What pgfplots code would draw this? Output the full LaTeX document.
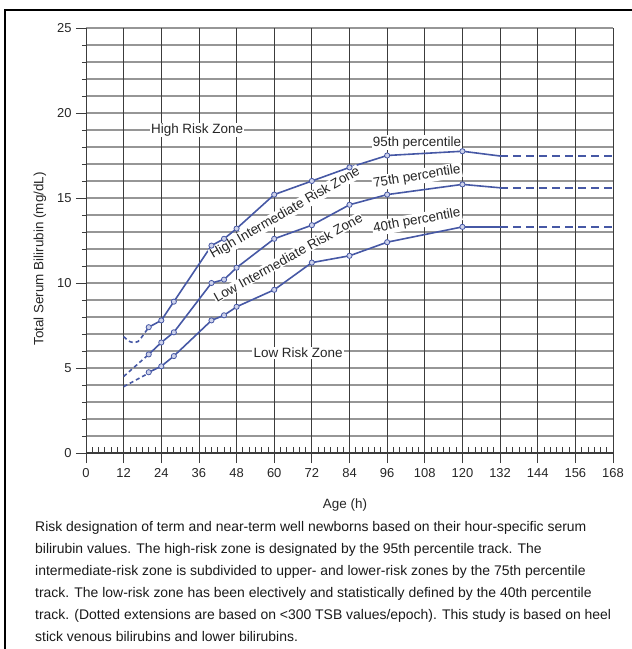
\documentclass[border=0pt]{standalone}
\usepackage{pgfplots}
\pgfplotsset{compat=1.18}
\usepackage{fontspec}
\setmainfont{Liberation Sans}
\definecolor{lineblue}{RGB}{70,88,165}
\definecolor{markfill}{RGB}{205,210,235}
\definecolor{hgrid}{RGB}{150,150,150}
\definecolor{vgrid}{RGB}{60,60,60}
\begin{document}
\begin{tikzpicture}[x=1bp,y=1bp]
\path[use as bounding box] (-86,-196) rectangle (546,453);
\draw[black, line width=2.2bp] (-81,-196) -- (-81,443) -- (546,443);
\begin{axis}[
  at={(0,0)}, anchor=south west,
  scale only axis, width=527bp, height=425bp,
  xmin=0, xmax=168, ymin=0, ymax=25,
  clip=false,
  axis line style={draw=none},
  xtick={0,12,...,168}, ytick={0,5,...,25},
  minor ytick={0,1,...,25},
  xtick pos=left, ytick pos=left,
  tick align=outside,
  major tick length=10bp, minor tick length=4bp,
  tick style={vgrid, line width=0.8bp},
  minor tick style={vgrid, line width=0.8bp},
  ticklabel style={font=\fontsize{13}{15}\selectfont, text=black!85},
  /pgf/number format/assume math mode=true,
  xticklabel style={yshift=-2bp},
  yticklabel style={xshift=-1bp},
]
% horizontal grid
\pgfplotsinvokeforeach{1,...,25}{
  \draw[hgrid, line width=1.4bp] (axis cs:0,#1) -- (axis cs:168,#1);
}
% vertical grid
\pgfplotsinvokeforeach{0,12,...,168}{
  \draw[vgrid, line width=0.8bp] (axis cs:#1,0) -- (axis cs:#1,25);
}
\draw[vgrid, line width=1.2bp] (axis cs:0,0) -- (axis cs:168,0);
% minor x ticks inside
\pgfplotsinvokeforeach{2,4,...,166}{
  \draw[vgrid, line width=0.8bp] (axis cs:#1,0) -- ++(0,6bp);
}

% dashed early parts
\addplot[lineblue, line width=1.6bp, dash pattern=on 4bp off 3bp, smooth, tension=0.5] coordinates {(12,6.85) (14,6.55) (16.5,6.55) (20,7.4)};
\addplot[lineblue, line width=1.6bp, dash pattern=on 4bp off 3bp] coordinates {(12,4.5) (20,5.8)};
\addplot[lineblue, line width=1.6bp, dash pattern=on 4bp off 3bp] coordinates {(12,3.9) (20,4.7)};

% dashed extensions
\addplot[lineblue, line width=2bp, dash pattern=on 8bp off 5bp] coordinates {(132,17.47) (168,17.47)};
\addplot[lineblue, line width=1.8bp, dash pattern=on 8bp off 5bp] coordinates {(132,15.6) (168,15.6)};
\addplot[lineblue, line width=1.8bp, dash pattern=on 8bp off 5bp] coordinates {(132,13.3) (168,13.3)};

% solid tracks
\addplot[lineblue, line width=1.6bp] coordinates {(120,17.75) (132,17.47)};
\addplot[lineblue, line width=1.6bp] coordinates {(120,15.8) (132,15.6)};
\addplot[lineblue, line width=1.6bp] coordinates {(120,13.3) (132,13.3)};

\addplot[lineblue, line width=1.6bp, mark=*, mark size=2.6bp, mark options={fill=markfill, draw=lineblue, line width=0.8bp}] coordinates {
(20,7.4) (24,7.8) (28,8.9) (40,12.2) (44,12.6) (48,13.2) (60,15.2) (72,16.0) (84,16.8) (96,17.5) (120,17.75)};
\addplot[lineblue, line width=1.6bp, mark=*, mark size=2.6bp, mark options={fill=markfill, draw=lineblue, line width=0.8bp}] coordinates {
(20,5.8) (24,6.5) (28,7.1) (40,10.0) (44,10.2) (48,10.9) (60,12.6) (72,13.4) (84,14.6) (96,15.2) (120,15.8)};
\addplot[lineblue, line width=1.6bp, mark=*, mark size=2.6bp, mark options={fill=markfill, draw=lineblue, line width=0.8bp}] coordinates {
(20,4.75) (24,5.1) (28,5.7) (40,7.8) (44,8.1) (48,8.6) (60,9.6) (72,11.2) (84,11.6) (96,12.4) (120,13.3)};

% annotations
\tikzset{lbl/.style={fill=white, inner sep=1.2bp, font=\fontsize{13.5}{15}\selectfont, text=black!85}}
\node[lbl] at (axis cs:35.4,19.0) {High Risk Zone};
\node[lbl] at (axis cs:67.6,5.9) {Low Risk Zone};
\node[lbl] at (axis cs:105.5,18.25) {95th percentile};
\node[lbl, rotate=9.5] at (axis cs:105.5,16.25) {75th percentile};
\node[lbl, rotate=10.5] at (axis cs:105.5,13.65) {40th percentile};
\node[lbl, rotate=30, inner sep=0.6bp] at (axis cs:63.5,14.1) {High Intermediate Risk Zone};
\node[lbl, rotate=29, inner sep=0.6bp] at (axis cs:64.4,11.5) {Low Intermediate Risk Zone};
\end{axis}
\node[font=\fontsize{13.5}{15}\selectfont, text=black!85] at (259,-52) {Age (h)};
\node[font=\fontsize{13.5}{15}\selectfont, text=black!85, rotate=90] at (-46,194) {Total Serum Bilirubin (mg/dL)};
\node[anchor=north west, inner sep=0pt, align=left, font=\fontsize{14}{22.2}\selectfont, text=black!90] at (-51,-68) {%
Risk designation of term and near-term well newborns based on their hour-specific serum\\
bilirubin values. The high-risk zone is designated by the 95th percentile track. The\\
intermediate-risk zone is subdivided to upper- and lower-risk zones by the 75th percentile\\
track. The low-risk zone has been electively and statistically defined by the 40th percentile\\
track. (Dotted extensions are based on <300 TSB values/epoch). This study is based on heel\\
stick venous bilirubins and lower bilirubins.};
\end{tikzpicture}
\end{document}
